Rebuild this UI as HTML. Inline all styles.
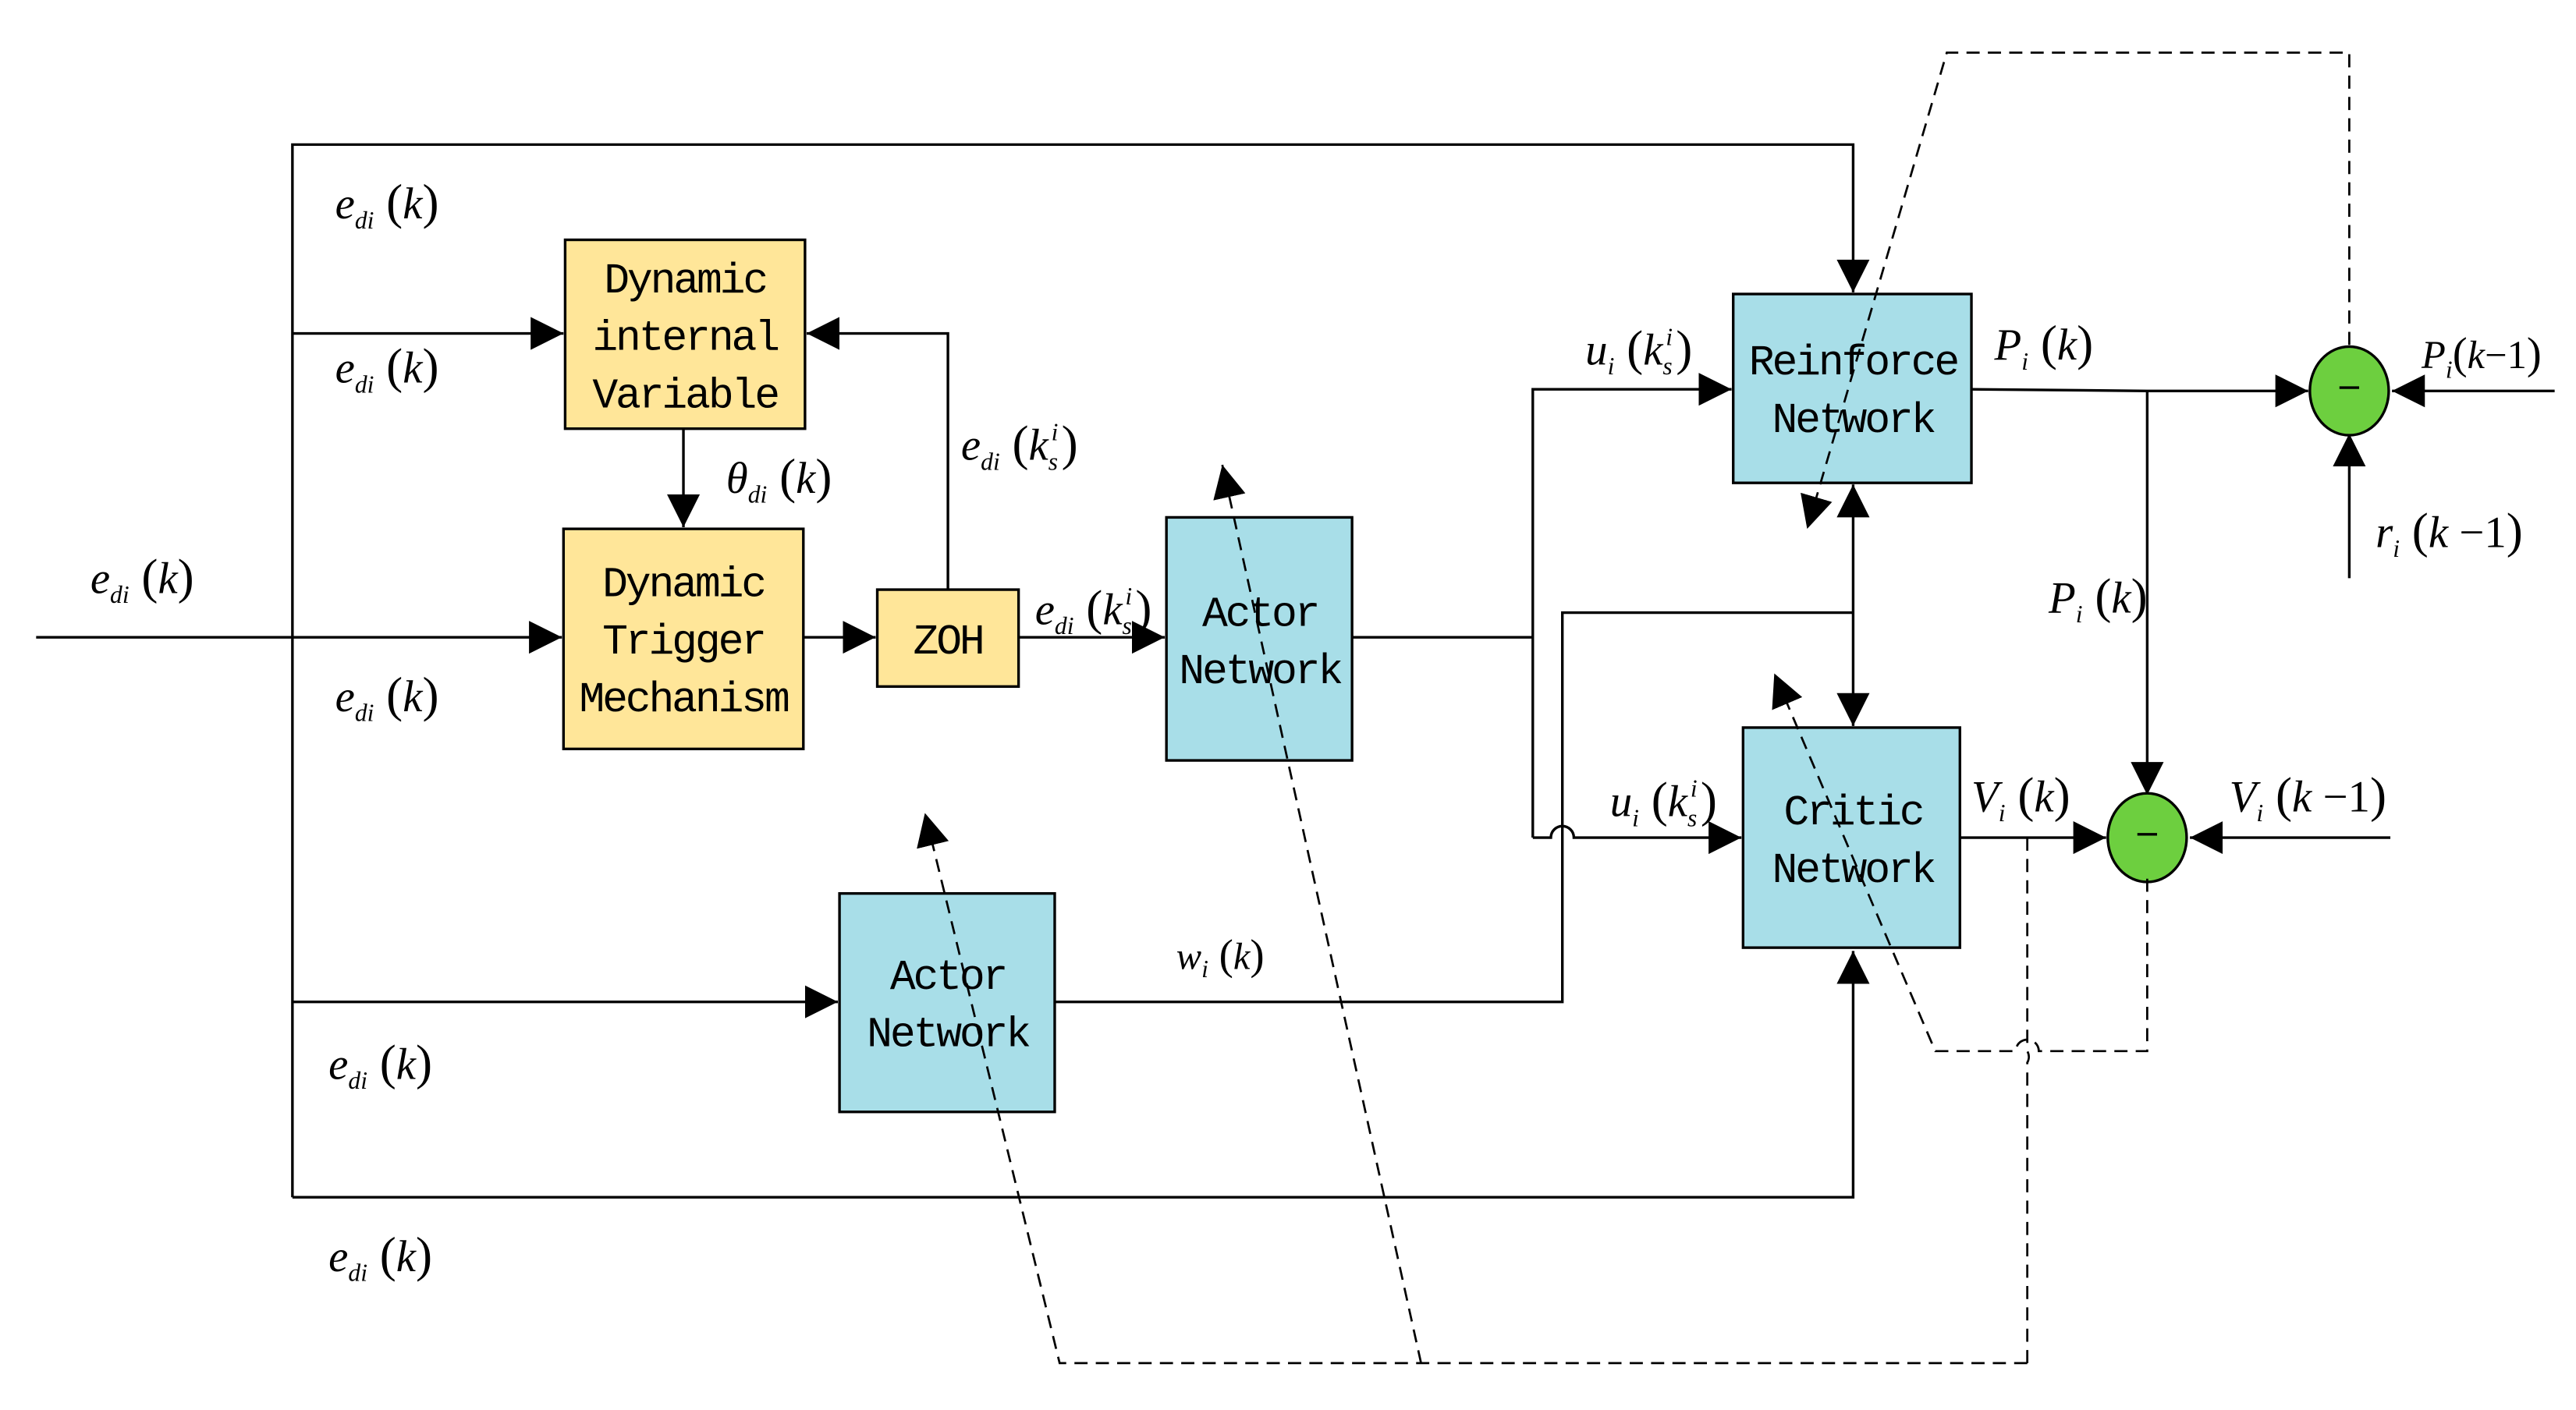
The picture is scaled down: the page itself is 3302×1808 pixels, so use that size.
<!DOCTYPE html>
<html><head><meta charset="utf-8"><style>
html,body{margin:0;padding:0;background:#fff;}
svg{display:block}
.m{font-family:"Liberation Serif",serif;font-style:italic;font-size:27px;fill:#000}
.s{font-size:15px}
.p{font-style:normal;font-size:30px}
.b{font-family:"Liberation Mono",monospace;font-size:26px;fill:#000;text-anchor:middle;letter-spacing:-1.5px}
</style></head><body>
<svg width="3302" height="1808" viewBox="0 0 1568 858.5" xmlns="http://www.w3.org/2000/svg">
<defs>
<marker id="a" viewBox="0 0 10 10" refX="10" refY="5" markerWidth="20" markerHeight="20" markerUnits="userSpaceOnUse" orient="auto"><path d="M0,0L10,5L0,10z" fill="#000"/></marker>
</defs>
<g stroke="#000" stroke-width="1.6" fill="none">
<polyline points="178,729 178,88 1128,88 1128,178" marker-end="url(#a)"/>
<polyline points="178,729 1128,729 1128,579" marker-end="url(#a)"/>
<line x1="22" y1="388" x2="342" y2="388" marker-end="url(#a)"/>
<line x1="178" y1="203" x2="343" y2="203" marker-end="url(#a)"/>
<line x1="178" y1="610" x2="510" y2="610" marker-end="url(#a)"/>
<line x1="416" y1="261" x2="416" y2="321" marker-end="url(#a)"/>
<line x1="489" y1="388" x2="533" y2="388" marker-end="url(#a)"/>
<polyline points="577,359 577,203 491,203" marker-end="url(#a)"/>
<line x1="620" y1="388" x2="709" y2="388" marker-end="url(#a)"/>
<polyline points="823,388 933,388"/>
<polyline points="933,510 933,237 1054,237" marker-end="url(#a)"/>
<path d="M933,510 H944 A7,7 0 0 1 958,510 H1060" marker-end="url(#a)"/>
<polyline points="642,610 951,610 951,373 1128,373"/>
<line x1="1128" y1="373" x2="1128" y2="295" marker-end="url(#a)"/>
<line x1="1128" y1="373" x2="1128" y2="442" marker-end="url(#a)"/>
<polyline points="1200,237 1307,238 1405,238" marker-end="url(#a)"/>
<line x1="1307" y1="238" x2="1307" y2="484" marker-end="url(#a)"/>
<line x1="1555" y1="238" x2="1456" y2="238" marker-end="url(#a)"/>
<line x1="1430" y1="352" x2="1430" y2="264" marker-end="url(#a)"/>
<line x1="1193" y1="510" x2="1282" y2="510" marker-end="url(#a)"/>
<line x1="1455" y1="510" x2="1333" y2="510" marker-end="url(#a)"/>
</g>
<g stroke="#000" stroke-width="1.6">
<rect x="344" y="146" width="146" height="115" fill="#FFE699"/>
<rect x="343" y="322" width="146" height="134" fill="#FFE699"/>
<rect x="534" y="359" width="86" height="59" fill="#FFE699"/>
<rect x="710" y="315" width="113" height="148" fill="#A8DEE8"/>
<rect x="511" y="544" width="131" height="133" fill="#A8DEE8"/>
<rect x="1055" y="179" width="145" height="115" fill="#A8DEE8"/>
<rect x="1061" y="443" width="132" height="134" fill="#A8DEE8"/>
<ellipse cx="1430" cy="238" rx="24" ry="27" fill="#6DCF3F"/>
<ellipse cx="1307" cy="510" rx="24" ry="27" fill="#6DCF3F"/>
</g>
<g stroke="#000" stroke-width="1.6"><line x1="1424" y1="236" x2="1436" y2="236"/><line x1="1301" y1="508" x2="1313" y2="508"/></g>
<g class="b">
<text x="417" y="178">Dynamic</text><text x="417" y="213">internal</text><text x="417" y="248">Variable</text>
<text x="416" y="363">Dynamic</text><text x="416" y="398">Trigger</text><text x="416" y="433">Mechanism</text>
<text x="577" y="398">ZOH</text>
<text x="767" y="381">Actor</text><text x="767" y="416">Network</text>
<text x="577" y="602">Actor</text><text x="577" y="637">Network</text>
<text x="1128" y="228">Reinforce</text><text x="1128" y="263">Network</text>
<text x="1128" y="502">Critic</text><text x="1128" y="537">Network</text>
</g>
<g stroke="#000" stroke-width="1.3" fill="none" stroke-dasharray="8,5">
<polyline points="1430,210 1430,32 1185,32 1100,322" marker-end="url(#a)"/>
<path d="M1234,510 V640 M1234,830 H645 L563,495" marker-end="url(#a)"/>
<path d="M1234,830 V647 A7,7 0 0 0 1234,640"/>
<line x1="865" y1="830" x2="744" y2="283" marker-end="url(#a)"/>
<path d="M1307,535 V640 H1241 A7,7 0 0 0 1227,640 H1178 L1080,410" marker-end="url(#a)"/>
</g>
<g class="m">
<text x="204" y="133">e<tspan class="s" dy="6">di</tspan><tspan class="p" dy="-6"> (</tspan>k<tspan class="p">)</tspan></text>
<text x="204" y="233">e<tspan class="s" dy="6">di</tspan><tspan class="p" dy="-6"> (</tspan>k<tspan class="p">)</tspan></text>
<text x="204" y="433">e<tspan class="s" dy="6">di</tspan><tspan class="p" dy="-6"> (</tspan>k<tspan class="p">)</tspan></text>
<text x="200" y="657">e<tspan class="s" dy="6">di</tspan><tspan class="p" dy="-6"> (</tspan>k<tspan class="p">)</tspan></text>
<text x="200" y="774">e<tspan class="s" dy="6">di</tspan><tspan class="p" dy="-6"> (</tspan>k<tspan class="p">)</tspan></text>
<text x="55" y="361">e<tspan class="s" dy="6">di</tspan><tspan class="p" dy="-6"> (</tspan>k<tspan class="p">)</tspan></text>
<text x="442" y="300">θ<tspan class="s" dy="6">di</tspan><tspan class="p" dy="-6"> (</tspan>k<tspan class="p">)</tspan></text>
<text x="585" y="280">e<tspan class="s" dy="6">di</tspan><tspan class="p" dy="-6"> (</tspan>k<tspan class="s" dy="6">s</tspan><tspan class="s" dx="-4" dy="-18">i</tspan><tspan class="p" dx="2" dy="12">)</tspan></text>
<text x="630" y="380">e<tspan class="s" dy="6">di</tspan><tspan class="p" dy="-6"> (</tspan>k<tspan class="s" dy="6">s</tspan><tspan class="s" dx="-4" dy="-18">i</tspan><tspan class="p" dx="2" dy="12">)</tspan></text>
<text x="965" y="222">u<tspan class="s" dy="6">i</tspan><tspan class="p" dy="-6"> (</tspan>k<tspan class="s" dy="6">s</tspan><tspan class="s" dx="-4" dy="-18">i</tspan><tspan class="p" dx="2" dy="12">)</tspan></text>
<text x="980" y="497">u<tspan class="s" dy="6">i</tspan><tspan class="p" dy="-6"> (</tspan>k<tspan class="s" dy="6">s</tspan><tspan class="s" dx="-4" dy="-18">i</tspan><tspan class="p" dx="2" dy="12">)</tspan></text>
<text x="716" y="590" style="font-size:23px">w<tspan class="s" dy="5">i</tspan><tspan class="p" dy="-5" style="font-size:26px"> (</tspan>k<tspan class="p" style="font-size:26px">)</tspan></text>
<text x="1214" y="219">P<tspan class="s" dy="6">i</tspan><tspan class="p" dy="-6"> (</tspan>k<tspan class="p">)</tspan></text>
<text x="1247" y="373">P<tspan class="s" dy="6">i</tspan><tspan class="p" dy="-6"> (</tspan>k<tspan class="p">)</tspan></text>
<text x="1474" y="224" style="font-size:24px">P<tspan class="s" dy="6">i</tspan><tspan class="p" dy="-6" style="font-size:27px">(</tspan>k<tspan style="font-style:normal">−1</tspan><tspan class="p" style="font-size:27px">)</tspan></text>
<text x="1446" y="333">r<tspan class="s" dy="6">i</tspan><tspan class="p" dy="-6"> (</tspan>k<tspan style="font-style:normal"> −1</tspan><tspan class="p">)</tspan></text>
<text x="1200" y="494">V<tspan class="s" dy="6">i</tspan><tspan class="p" dy="-6"> (</tspan>k<tspan class="p">)</tspan></text>
<text x="1357" y="494">V<tspan class="s" dy="6">i</tspan><tspan class="p" dy="-6"> (</tspan>k<tspan style="font-style:normal"> −1</tspan><tspan class="p">)</tspan></text>
</g>
</svg>
</body></html>
